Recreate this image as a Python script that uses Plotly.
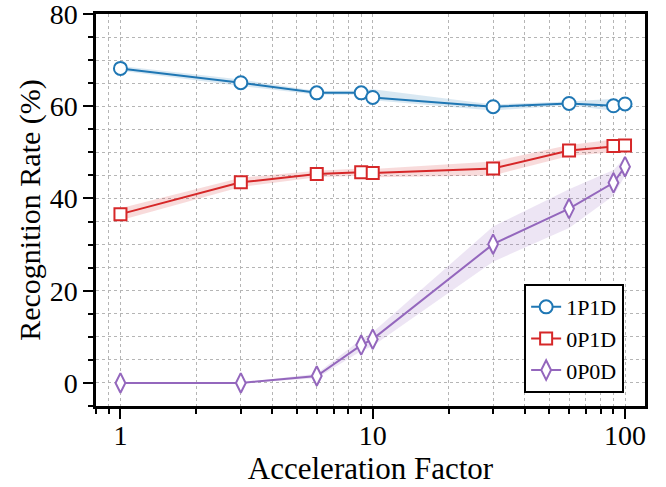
import plotly.graph_objects as go

accel = [1, 3, 6, 9, 10, 30, 60, 90, 100]

rate_1p1d = [68.2, 65.1, 62.9, 62.9, 61.9, 59.9, 60.6, 60.1, 60.5]
low_1p1d = [67.7, 64.4, 62.5, 62.5, 61.3, 59.1, 60.2, 59.0, 60.0]
high_1p1d = [68.7, 65.8, 63.3, 63.4, 63.7, 60.4, 61.0, 61.6, 61.0]

rate_0p1d = [36.6, 43.5, 45.3, 45.7, 45.5, 46.5, 50.4, 51.4, 51.5]
low_0p1d = [35.3, 42.5, 44.6, 44.9, 44.6, 45.0, 49.2, 50.0, 50.5]
high_0p1d = [37.9, 44.5, 46.0, 46.5, 46.4, 48.0, 51.6, 52.8, 52.5]

rate_0p0d = [0.0, 0.0, 1.5, 8.2, 9.5, 30.1, 37.8, 43.4, 46.9]
low_0p0d = [0.0, 0.0, 1.0, 6.9, 8.0, 26.3, 33.6, 40.6, 44.9]
high_0p0d = [0.0, 0.0, 2.0, 9.5, 11.0, 33.9, 42.0, 46.2, 48.9]

series = [
    ("1P1D", rate_1p1d, low_1p1d, high_1p1d, "#1f77b4", "rgba(31,119,180,0.17)", "circle", 13),
    ("0P1D", rate_0p1d, low_0p1d, high_0p1d, "#d62728", "rgba(214,39,40,0.17)", "square", 12),
    ("0P0D", rate_0p0d, low_0p0d, high_0p0d, "#9467bd", "rgba(148,103,189,0.17)", "diamond-tall", 14),
]

FONT = "Liberation Serif, DejaVu Serif, Times New Roman, serif"
fig = go.Figure()

for name, y, lo, hi, col, fillcol, sym, sz in series:
    fig.add_trace(go.Scatter(x=accel, y=lo, mode="lines", line=dict(width=0),
                             showlegend=False, hoverinfo="skip"))
    fig.add_trace(go.Scatter(x=accel, y=hi, mode="lines", line=dict(width=0),
                             fill="tonexty", fillcolor=fillcol,
                             showlegend=False, hoverinfo="skip"))

for name, y, lo, hi, col, fillcol, sym, sz in series:
    fig.add_trace(go.Scatter(
        x=accel, y=y, mode="lines+markers", name=name,
        line=dict(color=col, width=2),
        marker=dict(symbol=sym, size=sz, color="white",
                    line=dict(color=col, width=2)),
    ))

grid_col = "#b5b5b5"
fig.update_layout(
    width=666, height=487,
    margin=dict(l=96, r=21, t=14, b=81, autoexpand=False),
    paper_bgcolor="white", plot_bgcolor="white",
    font=dict(family=FONT, size=28, color="black"),
    legend=dict(
        x=0.962, y=0.033, xanchor="right", yanchor="bottom",
        bgcolor="white", bordercolor="black", borderwidth=2,
        font=dict(family=FONT, size=22),
        itemwidth=30, tracegroupgap=0, traceorder="normal",
    ),
)

fig.update_xaxes(
    type="log", range=[-0.0969, 2.0792], automargin=False,
    tickvals=[1, 10, 100], ticktext=["1", "10", "100"],
    ticks="outside", ticklen=10, tickwidth=2.2, tickcolor="black",
    ticklabelstandoff=-7,
    showline=True, linecolor="black", linewidth=2.5, mirror=True,
    showgrid=True, gridcolor=grid_col, gridwidth=1.3, griddash="dot",
    minor=dict(ticks="outside", ticklen=5, tickwidth=1.5, tickcolor="black",
               showgrid=True, gridcolor=grid_col, gridwidth=1.3, griddash="dot",
               dtick="D1"),
    zeroline=False,
    title=dict(text="Acceleration Factor", font=dict(family=FONT, size=31), standoff=6),
    tickfont=dict(family=FONT, size=28),
)

fig.update_yaxes(
    range=[-5, 80], tickvals=[0, 20, 40, 60, 80], automargin=False,
    ticklabeloverflow="allow",
    ticks="outside", ticklen=10, tickwidth=2.2, tickcolor="black",
    showline=True, linecolor="black", linewidth=2.5, mirror=True,
    showgrid=True, gridcolor=grid_col, gridwidth=1.3, griddash="dot",
    minor=dict(dtick=5, ticks="outside", ticklen=5, tickwidth=1.5, tickcolor="black",
               showgrid=True, gridcolor=grid_col, gridwidth=1.3, griddash="dot"),
    zeroline=False,
    title=dict(text="Recognition Rate (%)", font=dict(family=FONT, size=30), standoff=1),
    tickfont=dict(family=FONT, size=28),
)

fig.write_html("out.html", config={"displayModeBar": False},
               post_script="document.body.style.margin='0';")
